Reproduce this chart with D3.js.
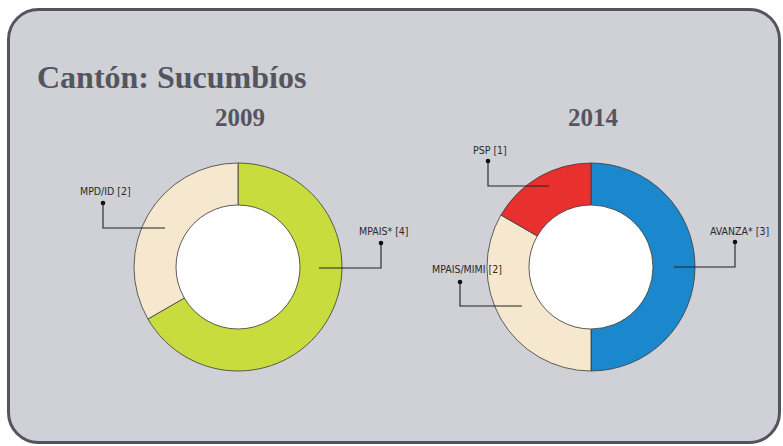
<!DOCTYPE html>
<html><head><meta charset="utf-8">
<script src="https://cdn.jsdelivr.net/npm/d3@7"></script>
<style>
html,body{margin:0;padding:0;background:#fff;}
svg{display:block;}
</style></head>
<body>
<svg id="chart" width="783" height="446"></svg>
<script>
// ---- data ----
const titleText = "Cantón: Sucumbíos";
const years = ["2009", "2014"];
const parties2009 = ["MPAIS*", "MPD/ID"];
const seats2009 = [4, 2];
const colors2009 = ["#c9dc3e", "#f6e7cf"];
const parties2014 = ["AVANZA*", "MPAIS/MIMI", "PSP"];
const seats2014 = [3, 2, 1];
const colors2014 = ["#1b87cd", "#f6e7cf", "#e8302f"];

// ---- layout ----
const svg = d3.select("#chart");
svg.append("rect").attr("x", 8.5).attr("y", 9.5).attr("width", 771).attr("height", 433)
  .attr("rx", 30).attr("ry", 30).attr("fill", "#d0d1d6").attr("stroke", "#54545e").attr("stroke-width", 3);

svg.append("text").attr("x", 37).attr("y", 88).text(titleText)
  .attr("font-family", "Liberation Serif, Times New Roman, serif").attr("font-weight", "bold")
  .attr("font-size", 32).attr("fill", "#55555f");

const charts = [
  { year: years[0], cx: 238, cy: 267, names: parties2009, values: seats2009, colors: colors2009,
    labels: [
      { lx: 359, ly: 235, dot: [381, 243], elbow: [381, 268], end: [319, 268] },
      { lx: 80, ly: 195, dot: [103, 203], elbow: [103, 228], end: [165, 228] }
    ] },
  { year: years[1], cx: 591, cy: 267, names: parties2014, values: seats2014, colors: colors2014,
    labels: [
      { lx: 710, ly: 235, dot: [735, 242], elbow: [735, 267], end: [674, 267] },
      { lx: 432, ly: 273, dot: [460, 282], elbow: [460, 306], end: [522, 306] },
      { lx: 473, ly: 154, dot: [488, 161], elbow: [488, 186], end: [549, 186] }
    ] }
];

const rOuter = 104, rInner = 62;
const pie = d3.pie().sort(null).value(d => d);
const arc = d3.arc().innerRadius(rInner).outerRadius(rOuter);

charts.forEach(c => {
  svg.append("text").attr("x", c.cx + 2).attr("y", 126).attr("text-anchor", "middle")
    .text(c.year).attr("font-family", "Liberation Serif, Times New Roman, serif")
    .attr("font-weight", "bold").attr("font-size", 25).attr("fill", "#55555f");

  const g = svg.append("g").attr("transform", `translate(${c.cx},${c.cy})`);
  g.append("circle").attr("r", rInner).attr("fill", "#fff");
  g.selectAll("path").data(pie(c.values)).join("path")
    .attr("d", arc).attr("fill", (d, i) => c.colors[i])
    .attr("stroke", "#3a3a3a").attr("stroke-width", 0.8);

  c.labels.forEach((l, i) => {
    svg.append("polyline")
      .attr("points", [l.dot, l.elbow, l.end].map(p => p.join(",")).join(" "))
      .attr("fill", "none").attr("stroke", "#222").attr("stroke-width", 1.1);
    svg.append("circle").attr("cx", l.dot[0]).attr("cy", l.dot[1]).attr("r", 2.3).attr("fill", "#111");
    svg.append("text").attr("x", l.lx).attr("y", l.ly)
      .text(`${c.names[i]} [${c.values[i]}]`)
      .attr("font-family", "DejaVu Sans Condensed, DejaVu Sans, sans-serif")
      .attr("font-stretch", "condensed")
      .attr("font-size", 10.5).attr("fill", "#2a2a2a");
  });
});
</script>
</body></html>
